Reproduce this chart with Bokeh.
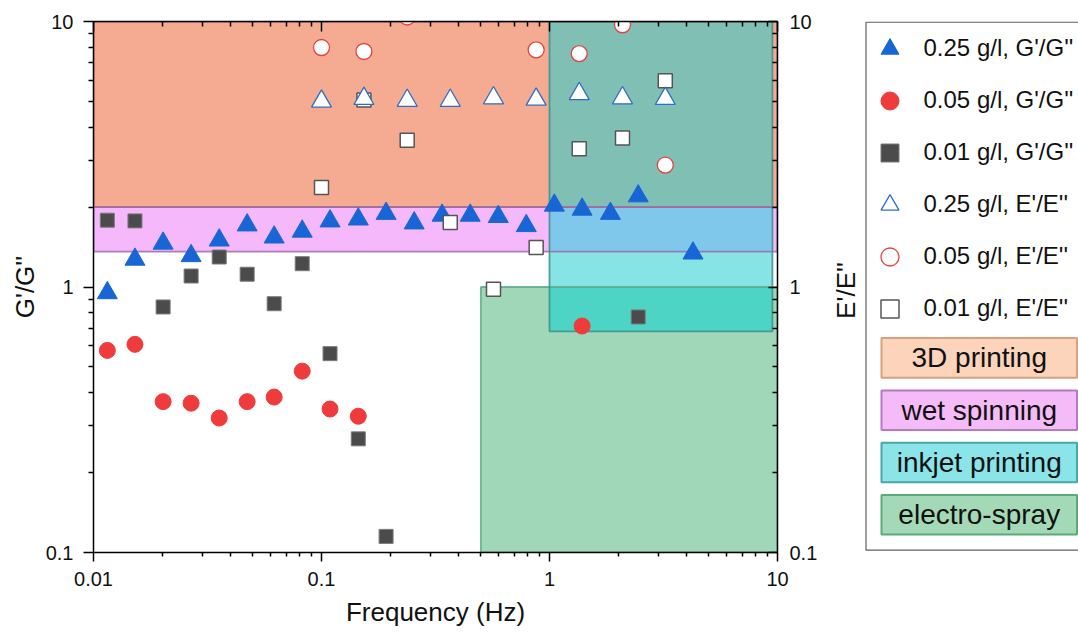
import math
from bokeh.plotting import figure
from bokeh.models import Range1d, FixedTicker, LogAxis, Legend, LegendItem
from bokeh.layouts import row
from bokeh.embed import file_html
from bokeh.resources import INLINE
from bokeh.core.properties import value

# ---------------- data ----------------
freq_g_025 = [0.0115, 0.0152, 0.0202, 0.0268, 0.0356, 0.0472, 0.062, 0.0823, 0.109, 0.145,
              0.192, 0.255, 0.338, 0.449, 0.596, 0.791, 1.05, 1.39, 1.85, 2.45, 4.26]
g_025 = [0.95, 1.27, 1.46, 1.31, 1.50, 1.71, 1.54, 1.62, 1.77, 1.80,
         1.89, 1.74, 1.86, 1.86, 1.84, 1.70, 2.03, 1.96, 1.89, 2.20, 1.34]

freq_g_005 = [0.0115, 0.0152, 0.0202, 0.0268, 0.0356, 0.0472, 0.062, 0.0823, 0.109, 0.145, 1.39]
g_005 = [0.577, 0.608, 0.370, 0.365, 0.321, 0.370, 0.385, 0.482, 0.347, 0.326, 0.713]

freq_g_001 = [0.0115, 0.0152, 0.0202, 0.0268, 0.0356, 0.0472, 0.062, 0.0823, 0.109, 0.145, 0.192, 2.45]
g_001 = [1.785, 1.774, 0.841, 1.10, 1.297, 1.117, 0.865, 1.224, 0.561, 0.268, 0.115, 0.771]

freq_e_025 = [0.1, 0.1535, 0.2376, 0.367, 0.568, 0.874, 1.35, 2.09, 3.22]
e_025 = [5.0, 5.12, 5.04, 5.04, 5.15, 5.09, 5.34, 5.15, 5.12]

freq_e_005 = [0.1, 0.1535, 0.2376, 0.874, 1.35, 2.09, 3.22]
e_005 = [7.98, 7.71, 10.4, 7.82, 7.57, 9.72, 2.88]

freq_e_001 = [0.1, 0.1535, 0.2376, 0.367, 0.568, 0.874, 1.35, 2.09, 3.22]
e_001 = [2.37, 5.06, 3.57, 1.75, 0.98, 1.41, 3.32, 3.64, 5.98]

series_labels = ["0.25 g/l, G'/G''", "0.05 g/l, G'/G''", "0.01 g/l, G'/G''",
                 "0.25 g/l, E'/E''", "0.05 g/l, E'/E''", "0.01 g/l, E'/E''"]

x_ticks = [0.01, 0.1, 1, 10]
x_tick_labels = ["0.01", "0.1", "1", "10"]
y_ticks = [0.1, 1, 10]
y_tick_labels = ["0.1", "1", "10"]

region_names = ["3D printing", "wet spinning", "inkjet printing", "electro-spray"]
region_x0 = [0.01, 0.01, 1.0, 0.5]
region_x1 = [10.0, 10.0, 9.5, 10.0]
region_y0 = [2.0, 1.36, 0.68, 0.1]
region_y1 = [10.0, 2.0, 10.0, 1.0]

# ---------------- styles ----------------
FONT = "Liberation Sans"
region_fill = ["#F5AB91", "#F5B8FA", "#86E4E4", "#A0D7B9"]
region_line = ["#A0654E", "#A06CB0", "#3F8F88", "#5DAA88"]
overlap_fill = {0: "#80BFB3", 1: "#80C7EC", 3: "#4DD4C5"}   # cyan over others
legend_box_fill = ["#FBD4BB", "#F5BBF9", "#8BE4E8", "#A3D9B6"]
legend_box_line = ["#D8A07C", "#B47BC0", "#4AA7A8", "#5BAA78"]

BLUE = "#1866D6"
RED = "#EF3B3B"
DARK = "#4B4B4B"

marker_specs = [
    dict(marker="triangle", fill_color=BLUE, line_color=BLUE, line_width=1),
    dict(marker="circle", fill_color=RED, line_color=RED, line_width=1),
    dict(marker="square", fill_color=DARK, line_color="#7A7A7A", line_width=1),
    dict(marker="triangle", fill_color="white", line_color="#2F6CC8", line_width=1.3),
    dict(marker="circle", fill_color="white", line_color="#E8403F", line_width=1.3),
    dict(marker="square", fill_color="white", line_color="#555555", line_width=1.5),
]
marker_sizes = [20, 16, 14, 20, 16, 14]
series_x = [freq_g_025, freq_g_005, freq_g_001, freq_e_025, freq_e_005, freq_e_001]
series_y = [g_025, g_005, g_001, e_025, e_005, e_001]

# ---------------- main figure ----------------
MAIN_W, H = 826, 634
p = figure(width=MAIN_W, height=H, x_axis_type="log", y_axis_type="log",
           x_range=Range1d(0.01, 10), y_range=Range1d(0.1, 10),
           output_backend="svg", toolbar_location=None,
           min_border_left=93, min_border_top=21, min_border_right=49, min_border_bottom=82)
p.grid.visible = False
p.outline_line_color = None
p.background_fill_color = "white"
p.border_fill_color = "white"

x_minor = [t * k for t in x_ticks[:-1] for k in range(2, 10)]
y_minor = [t * k for t in y_ticks[:-1] for k in range(2, 10)]
x_over = {t: lab for t, lab in zip(x_ticks, x_tick_labels)}
y_over = {t: lab for t, lab in zip(y_ticks, y_tick_labels)}


def style_axis(ax):
    ax.axis_line_color = "black"
    ax.axis_line_width = 1.5
    ax.major_tick_line_color = "black"
    ax.major_tick_line_width = 1.5
    ax.minor_tick_line_color = "black"
    ax.minor_tick_line_width = 1.5
    ax.major_label_text_font = FONT
    ax.major_label_text_font_size = "20px"
    ax.major_label_text_color = "#111111"
    ax.axis_label_text_font = FONT
    ax.axis_label_text_font_size = "26px"
    ax.axis_label_text_font_style = "normal"
    ax.axis_label_text_color = "#111111"


# bottom axis
xa = p.xaxis[0]
xa.ticker = FixedTicker(ticks=x_ticks, minor_ticks=x_minor)
xa.major_label_overrides = x_over
style_axis(xa)
xa.major_tick_out = 9
xa.major_tick_in = 0
xa.minor_tick_out = 4
xa.minor_tick_in = 0
xa.major_label_standoff = 10
xa.axis_label = "Frequency (Hz)"
xa.axis_label_standoff = 8

# left axis
ya = p.yaxis[0]
ya.ticker = FixedTicker(ticks=y_ticks, minor_ticks=y_minor)
ya.major_label_overrides = y_over
style_axis(ya)
ya.major_tick_out = 10
ya.major_tick_in = 0
ya.minor_tick_out = 5
ya.minor_tick_in = 0
ya.major_label_standoff = 10
ya.axis_label = "G'/G''"
ya.axis_label_standoff = 3

# right axis (E'/E'' scale, identical to left)
ra = LogAxis(ticker=FixedTicker(ticks=y_ticks, minor_ticks=y_minor),
             major_label_overrides=y_over)
style_axis(ra)
ra.major_tick_out = 0
ra.major_tick_in = 9
ra.minor_tick_out = 0
ra.minor_tick_in = 5
ra.major_label_standoff = 12
p.add_layout(ra, "right")

# top axis (ticks only)
ta = LogAxis(ticker=FixedTicker(ticks=x_ticks, minor_ticks=x_minor),
             major_label_overrides={t: "" for t in x_ticks})
style_axis(ta)
ta.major_label_text_font_size = "1px"
ta.major_label_standoff = 0
ta.major_tick_out = 0
ta.major_tick_in = 10
ta.minor_tick_out = 0
ta.minor_tick_in = 5
p.add_layout(ta, "above")

# ---- application regions ----
for i in [0, 1, 3, 2]:
    p.quad(left=[region_x0[i]], right=[region_x1[i]], bottom=[region_y0[i]], top=[region_y1[i]],
           fill_color=region_fill[i], line_color=None)
ci = 2
for j, col in overlap_fill.items():
    l = max(region_x0[ci], region_x0[j]); r = min(region_x1[ci], region_x1[j])
    b = max(region_y0[ci], region_y0[j]); t = min(region_y1[ci], region_y1[j])
    if l < r and b < t:
        p.quad(left=[l], right=[r], bottom=[b], top=[t], fill_color=col, line_color=None)
for i in [0, 1, 3, 2]:
    p.quad(left=[region_x0[i]], right=[region_x1[i]], bottom=[region_y0[i]], top=[region_y1[i]],
           fill_alpha=0, line_color=region_line[i], line_width=1.8, line_alpha=0.85)

# ---- data markers (draw order: squares, circles, triangles; filled then open) ----
for k in [2, 1, 0, 5, 4, 3]:
    p.scatter(series_x[k], series_y[k], size=marker_sizes[k], **marker_specs[k])

# ---------------- legend panel ----------------
LW = 1078 - MAIN_W
FH = H - 21 - 82          # frame height shared with the main plot (531 px)
lf = figure(width=LW, height=H, x_range=Range1d(0, LW), y_range=Range1d(0, FH),
            output_backend="svg", toolbar_location=None,
            min_border_left=0, min_border_right=0, min_border_top=21, min_border_bottom=82,
            x_axis_location=None, y_axis_location=None)
lf.grid.visible = False
lf.outline_line_color = None
lf.background_fill_color = "white"
lf.border_fill_color = "white"

# outer frame of the legend (right edge runs off the page as in the original)
lf.quad(left=[39.5], right=[LW + 20], bottom=[2.3], top=[530.3],
        fill_color="white", line_color="#606060", line_width=1.2)

# secondary axis title
lf.text(x=[19], y=[262], text=["E'/E''"], angle=math.pi / 2,
        text_font=value(FONT), text_font_size="26px", text_color="#111111",
        text_align="center", text_baseline="middle")

items = []
for k, lab in enumerate(series_labels):
    r = lf.scatter(series_x[k], series_y[k], size=marker_sizes[k], visible=False, **marker_specs[k])
    items.append(LegendItem(label=lab, renderers=[r]))

GH, SP = 45, 7
leg_h = len(items) * GH + (len(items) - 1) * SP
leg_top = 526.5
legend = Legend(items=items, location=(40.5, leg_top - leg_h),
                border_line_color=None, background_fill_alpha=0,
                inactive_fill_alpha=0,
                padding=0, margin=0, spacing=SP,
                glyph_width=GH, glyph_height=GH, label_height=GH,
                label_standoff=12, label_text_font=FONT, label_text_font_size="24px",
                label_text_color="#111111", label_text_baseline="middle")
lf.add_layout(legend)

# application boxes in the legend
box_top0, box_pitch, box_h = 214.4, 52.3, 39.6
tops = [box_top0 - k * box_pitch for k in range(len(region_names))]
bots = [t - box_h for t in tops]
lf.quad(left=55, right=250.5, top=tops, bottom=bots,
        fill_color=legend_box_fill, line_color=legend_box_line, line_width=2)
lf.text(x=[152.75] * len(region_names), y=[(t + b) / 2 for t, b in zip(tops, bots)],
        text=region_names, text_font=value(FONT), text_font_size="28px",
        text_color="#111111", text_align="center", text_baseline="middle")

layout = row(p, lf)
open("out.html", "w").write(file_html(layout, INLINE))
